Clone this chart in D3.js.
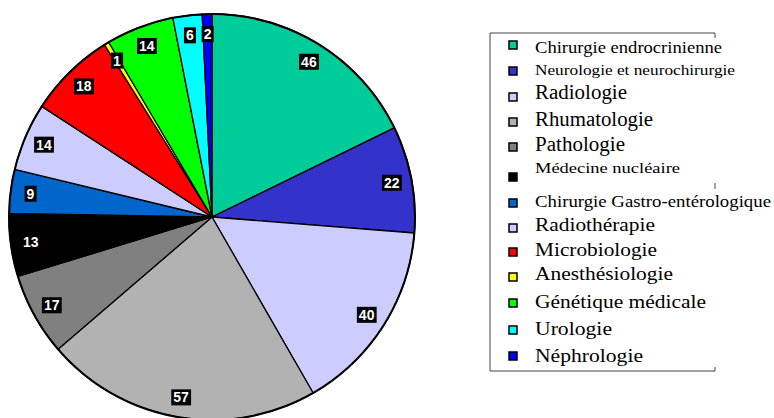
<!DOCTYPE html>
<html>
<head>
<meta charset="utf-8">
<script src="https://cdn.jsdelivr.net/npm/d3@7"></script>
<style>
  body { margin: 0; background: #fff; }
  svg { display: block; }
</style>
</head>
<body>
<svg id="chart" width="774" height="418"></svg>
<script>
var categories = ["Chirurgie endrocrinienne", "Neurologie et neurochirurgie", "Radiologie", "Rhumatologie",
    "Pathologie", "Médecine nucléaire", "Chirurgie Gastro-entérologique", "Radiothérapie",
    "Microbiologie", "Anesthésiologie", "Génétique médicale", "Urologie", "Néphrologie"];
var counts = [46, 22, 40, 57, 17, 13, 9, 14, 18, 1, 14, 6, 2];
var colors = ["#00cc99", "#3333cc", "#ccccff", "#b2b2b2", "#808080", "#000000", "#0066cc",
    "#ccccff", "#ff0000", "#ffff00", "#00ff00", "#00ffff", "#0000ff"];

// legend rows in the original use uneven sizes and spacing
var legendFont = [16, 14, 20, 20, 20, 15, 17, 19, 19, 19, 19, 19, 19];
var legendWidth = [187, 200, 92, 118, 90, 145, 236, 120, 122, 138, 171, 77, 108];
var legendTextY = [53, 75, 99, 126, 151, 173, 207, 231, 256, 280, 308, 335, 362];
var legendMarkY = [45, 71, 97, 122, 147, 177, 203, 228, 252, 277, 303, 330, 356];

var svg = d3.select("#chart"),
    cx = 212, cy = 217, radius = 203;

var data = categories.map(function(c, i) { return {name: c, count: counts[i], color: colors[i]}; });

var pie = d3.pie()
    .sort(null)
    .value(function(d) { return d.count; });

var arc = d3.arc()
    .innerRadius(0)
    .outerRadius(radius);

var labelArc = d3.arc()
    .innerRadius(183)
    .outerRadius(183);

var g = svg.append("g").attr("transform", "translate(" + cx + "," + cy + ")");

var slices = pie(data);

g.selectAll(".slice")
    .data(slices)
    .enter().append("path")
    .attr("class", "slice")
    .attr("d", arc)
    .attr("fill", function(d) { return d.data.color; })
    .attr("stroke", "#000")
    .attr("stroke-width", 1.3)
    .attr("stroke-linejoin", "round");

g.append("circle")
    .attr("r", radius)
    .attr("fill", "none")
    .attr("stroke", "#000")
    .attr("stroke-width", 2);

var label = g.selectAll(".label")
    .data(slices)
    .enter().append("g")
    .attr("class", "label")
    .attr("transform", function(d) { return "translate(" + labelArc.centroid(d) + ")"; });

label.append("text")
    .attr("text-anchor", "middle")
    .attr("dy", "0.36em")
    .style("font-family", "Arial, 'Liberation Sans', sans-serif")
    .style("font-weight", "bold")
    .style("font-size", "14px")
    .attr("fill", "#fff")
    .text(function(d) { return d.data.count; });

label.insert("rect", "text")
    .each(function() {
        var t = d3.select(this.parentNode).select("text").node().getBBox();
        d3.select(this)
            .attr("x", t.x - 2)
            .attr("y", -8)
            .attr("width", t.width + 4)
            .attr("height", 16);
    })
    .attr("fill", "#000");

// legend
var lg = svg.append("g").attr("class", "legend");

lg.append("path")
    .attr("d", "M715,38V33H490V371H715V367")
    .attr("fill", "none")
    .attr("stroke", "#444")
    .attr("stroke-width", 1);
lg.append("line")
    .attr("x1", 715).attr("x2", 715).attr("y1", 183).attr("y2", 189)
    .attr("stroke", "#444");

var item = lg.selectAll(".item")
    .data(data)
    .enter().append("g")
    .attr("class", "item");

item.append("rect")
    .attr("x", 509)
    .attr("y", function(d, i) { return legendMarkY[i] - 4; })
    .attr("width", 8)
    .attr("height", 8)
    .attr("fill", function(d) { return d.color; })
    .attr("stroke", "#000")
    .attr("stroke-width", 1.5);

item.append("text")
    .attr("x", 535)
    .attr("y", function(d, i) { return legendTextY[i]; })
    .attr("textLength", function(d, i) { return legendWidth[i]; })
    .attr("lengthAdjust", "spacingAndGlyphs")
    .style("font-family", "'Liberation Serif', 'Times New Roman', serif")
    .style("font-size", function(d, i) { return legendFont[i] + "px"; })
    .attr("fill", "#000")
    .text(function(d) { return d.name; });
</script>
</body>
</html>
